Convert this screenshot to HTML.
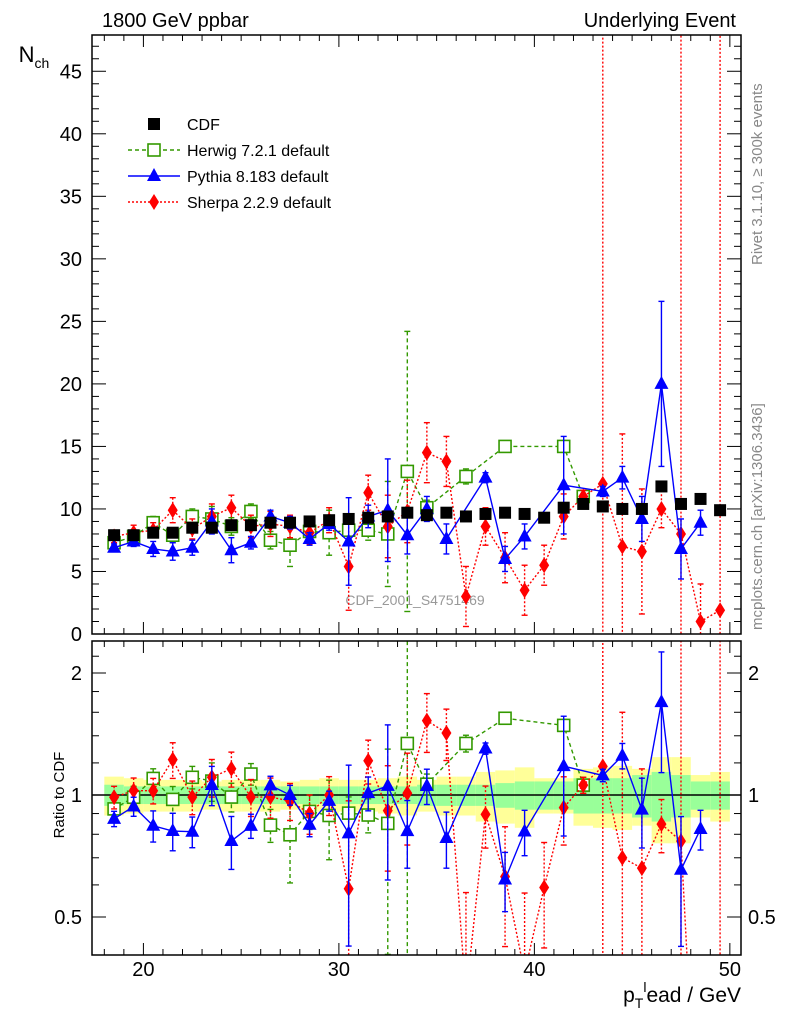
<!DOCTYPE html>
<html><head><meta charset="utf-8"><style>
html,body{margin:0;padding:0;background:#fff;overflow:hidden}
svg{display:block;font-family:"Liberation Sans",sans-serif}
</style></head><body>
<svg id="c" width="786" height="1024" viewBox="0 0 786 1024" xmlns="http://www.w3.org/2000/svg">
<defs>
<clipPath id="cm"><rect x="92" y="35" width="649" height="599"/></clipPath>
<clipPath id="cr"><rect x="92" y="641" width="649" height="314"/></clipPath>
</defs>
<text x="102" y="27" font-size="20">1800 GeV ppbar</text>
<text x="736" y="27" font-size="20" text-anchor="end">Underlying Event</text>
<text x="34" y="62" font-size="22" text-anchor="middle">N<tspan font-size="14" dy="6">ch</tspan></text>
<text transform="translate(64,795) rotate(-90)" font-size="15" text-anchor="middle">Ratio to CDF</text>
<text x="741" y="1002" font-size="21" text-anchor="end">p<tspan font-size="14" dy="6">T</tspan><tspan font-size="14" dy="-16">l</tspan><tspan dy="10">ead / GeV</tspan></text>
<text transform="translate(762,265) rotate(-90)" font-size="15" fill="#888" text-anchor="start"><tspan>Rivet 3.1.10, ≥ 300k events</tspan></text>
<text transform="translate(762,630) rotate(-90)" font-size="15" fill="#888">mcplots.cern.ch [arXiv:1306.3436]</text>
<text x="415" y="605" font-size="14" fill="#999" text-anchor="middle">CDF_2001_S4751469</text>
<g id="g"></g>
</svg>
<script>
const xs=[18.5,19.5,20.5,21.5,22.5,23.5,24.5,25.5,26.5,27.5,28.5,29.5,30.5,31.5,32.5,33.5,34.5,35.5,36.5,37.5,38.5,39.5,40.5,41.5,42.5,43.5,44.5,45.5,46.5,47.5,48.5,49.5];
const cdf=[7.9,7.9,8.1,8.1,8.5,8.5,8.7,8.7,8.9,8.9,9.0,9.1,9.2,9.3,9.4,9.7,9.5,9.7,9.4,9.6,9.7,9.6,9.3,10.1,10.4,10.2,10.0,10.0,11.8,10.4,10.8,9.9];
const bandStat=[0.06,0.05,0.05,0.05,0.05,0.05,0.05,0.05,0.05,0.05,0.05,0.05,0.05,0.05,0.05,0.05,0.06,0.06,0.06,0.06,0.07,0.08,0.08,0.08,0.10,0.10,0.10,0.12,0.14,0.12,0.08,0.08];
const bandTot=[0.11,0.10,0.09,0.09,0.09,0.08,0.09,0.09,0.09,0.08,0.09,0.10,0.09,0.09,0.10,0.11,0.09,0.11,0.11,0.14,0.15,0.17,0.10,0.10,0.16,0.17,0.18,0.16,0.24,0.24,0.12,0.14];
const hwX=[18.5,19.5,20.5,21.5,22.5,23.5,24.5,25.5,26.5,27.5,28.5,29.5,30.5,31.5,32.5,33.5,34.5,36.5,38.5,41.5,42.5];
const hwY=[7.3,7.8,8.9,7.9,9.4,9.2,8.6,9.8,7.5,7.1,8.2,8.1,8.3,8.3,8.0,13.0,10.1,12.6,15.0,15.0,11.0];
const hwE=[0.4,0.5,0.5,0.6,0.6,1.0,0.7,0.6,0.7,1.7,0.8,1.8,0.8,0.8,4.2,11.2,0.6,0.6,0,0,0.5];
const pyX=[18.5,19.5,20.5,21.5,22.5,23.5,24.5,25.5,26.5,27.5,28.5,29.5,30.5,31.5,32.5,33.5,34.5,35.5,37.5,38.5,39.5,41.5,43.5,44.5,45.5,46.5,47.5,48.5];
const pyY=[6.9,7.4,6.8,6.6,6.9,9.0,6.7,7.3,9.4,8.9,7.6,8.8,7.4,9.4,9.9,7.9,10.0,7.6,12.5,6.0,7.8,11.9,11.4,12.5,9.2,20.0,6.8,8.9];
const pyE=[0.3,0.4,0.6,0.7,0.6,1.0,1.0,0.5,0.5,0.5,0.5,0.5,3.5,0.9,4.1,1.5,1.0,1.2,0.4,1.0,1.0,3.9,0.4,0.9,1.8,6.6,2.4,1.0];
const shX=[18.5,19.5,20.5,21.5,22.5,23.5,24.5,25.5,26.5,27.5,28.5,29.5,30.5,31.5,32.5,33.5,34.5,35.5,36.5,37.5,38.5,39.5,40.5,41.5,42.5,43.5,44.5,45.5,46.5,47.5,48.5,49.5];
const shY=[7.8,8.1,8.3,9.9,8.4,9.4,10.1,8.6,8.8,8.6,8.1,9.1,5.4,11.3,8.6,9.8,14.5,13.8,3.0,8.6,6.1,3.5,5.5,9.4,11.0,12.0,7.0,6.6,10.0,8.0,1.0,1.9];
const shE=[0.5,0.6,0.6,1.0,0.8,1.0,1.0,0.9,1.0,0.9,0.9,1.0,3.5,1.4,2.5,2.5,2.4,2.0,2.4,1.5,2.0,2.0,1.6,1.8,0.5,60,9,5,1.5,60,3,60];
const yTicksMain=[0,5,10,15,20,25,30,35,40,45];
const rTicks=[0.5,1,2];
const xTicks=[20,30,40,50];

const NS='http://www.w3.org/2000/svg';
const G=document.getElementById('g');
const X0=17.37,X1=50.57,PL=92,PR=741;
const sx=v=>PL+(v-X0)/(X1-X0)*(PR-PL);
const MT=35,MB=634,YM=47.9;
const sy=v=>MB-v/YM*(MB-MT);
const RT=641,RB=955;
const sr=v=>795-Math.log2(v)*122;
function el(t,a,p){const e=document.createElementNS(NS,t);for(const k in a)e.setAttribute(k,a[k]);(p||G).appendChild(e);return e;}
const gm=el('g',{'clip-path':'url(#cm)'});


const gr=el('g',{'clip-path':'url(#cr)'});



xs.forEach((x,i)=>{
  const a=sx(x-0.5),b=sx(x+0.5);
  const y1=el('rect',{x:a,y:sr(1+bandTot[i]),width:b-a,height:sr(1-bandTot[i])-sr(1+bandTot[i]),fill:'#ffff99'},gr);
  
  
  const g1=el('rect',{x:a,y:sr(1+bandStat[i]),width:b-a,height:sr(1-bandStat[i])-sr(1+bandStat[i]),fill:'#99ff99'},gr);
  
  
});
const one=el('line',{x1:PL,x2:PR,y1:sr(1),y2:sr(1),stroke:'#000','stroke-width':1.5},gr);



function marker(type,px,py,col,par){
  let m;
  if(type==='sq')m=el('rect',{x:px-6,y:py-6,width:12,height:12,fill:'#000'},par);
  else if(type==='osq')m=el('rect',{x:px-6,y:py-6,width:12,height:12,fill:'#fff',stroke:col,'stroke-width':1.6},par);
  else if(type==='tri')m=el('polygon',{points:`${px},${py-8} ${px-7},${py+5} ${px+7},${py+5}`,fill:col},par);
  else m=el('polygon',{points:`${px},${py-8} ${px-5},${py} ${px},${py+8} ${px+5},${py}`,fill:col},par);
  return m;
}
function series(name,X,Y,E,col,dash,type,ratio){
  const par=ratio?gr:gm;
  const f=ratio?(i=>{const j=xs.indexOf(X[i]);return v=>sr(Math.max(v,1e-3)/cdf[j]);}):(i=>sy);
  let pts=X.map((x,i)=>sx(x)+','+f(i)(Y[i])).join(' ');
  const l=el('polyline',{points:pts,fill:'none',stroke:col,'stroke-width':1.4,'stroke-dasharray':dash},par);
  
  
  X.forEach((x,i)=>{
    const fy=f(i),px=sx(x);
    if(E[i]>0){
      const e=el('line',{x1:px,x2:px,y1:fy(Y[i]+E[i]),y2:fy(Math.max(Y[i]-E[i],0.001)),stroke:col,'stroke-width':1.4,'stroke-dasharray':dash},par);
      
      
      [Y[i]+E[i],Y[i]-E[i]].forEach(v=>{if(v>0)el('line',{x1:px-3,x2:px+3,y1:fy(v),y2:fy(v),stroke:col,'stroke-width':1.4},par);});
    }
    const m=marker(type,px,fy(Y[i]),col,par);
    
    
  });
}
series('herwig',hwX,hwY,hwE,'#339900','4,3','osq',false);
series('sherpa',shX,shY,shE,'#ff0000','2,2','dia',false);
series('pythia',pyX,pyY,pyE,'#0000ff','none','tri',false);
xs.forEach((x,i)=>{const m=marker('sq',sx(x),sy(cdf[i]),'#000',gm);

});
series('herwig',hwX,hwY,hwE,'#339900','4,3','osq',true);
series('sherpa',shX,shY,shE,'#ff0000','2,2','dia',true);
series('pythia',pyX,pyY,pyE,'#0000ff','none','tri',true);

[[MT,MB],[RT,RB]].forEach(([t,b],k)=>{
  const r=el('rect',{x:PL,y:t,width:PR-PL,height:b-t,fill:'none',stroke:'#000','stroke-width':1.5});
  
  
  for(let v=18;v<=50;v++){const px=sx(v),L=(v%10===0)?12:6;
    el('line',{x1:px,x2:px,y1:b,y2:b-L,stroke:'#000'});el('line',{x1:px,x2:px,y1:t,y2:t+L,stroke:'#000'});}
});
for(let v=0;v<=47;v++){const py=sy(v),L=(v%5===0)?14:7;
  el('line',{x1:PL,x2:PL+L,y1:py,y2:py,stroke:'#000'});el('line',{x1:PR,x2:PR-L,y1:py,y2:py,stroke:'#000'});}
yTicksMain.forEach(v=>{const t=el('text',{x:82,y:sy(v)+7,'font-size':20,'text-anchor':'end'});t.textContent=v;

});
[0.4,0.5,0.6,0.7,0.8,0.9,1,1.2,1.4,1.6,1.8,2,2.2,2.4].forEach(v=>{const py=sr(v);if(py<RT||py>RB)return;const L=rTicks.includes(v)?14:7;
  el('line',{x1:PL,x2:PL+L,y1:py,y2:py,stroke:'#000'});el('line',{x1:PR,x2:PR-L,y1:py,y2:py,stroke:'#000'});});
rTicks.forEach(v=>{[[82,'end'],[748,'start']].forEach(([x,a])=>{const t=el('text',{x:x,y:sr(v)+7,'font-size':20,'text-anchor':a});t.textContent=v;

});});
xTicks.forEach(v=>{const t=el('text',{x:sx(v),y:976,'font-size':20,'text-anchor':'middle'});t.textContent=v;

});

const leg=[['CDF','sq','#000','none'],['Herwig 7.2.1 default','osq','#339900','4,3'],['Pythia 8.183 default','tri','#0000ff','none'],['Sherpa 2.2.9 default','dia','#ff0000','2,2']];
leg.forEach((d,i)=>{const y=124+i*26;
  const g=el('g',{});
  
  
  if(i>0)el('line',{x1:128,x2:180,y1:y,y2:y,stroke:d[2],'stroke-width':1.4,'stroke-dasharray':d[3]},g);
  marker(d[1],154,y,d[2],g);
  const t=el('text',{x:187,y:y+6,'font-size':16},g);t.textContent=d[0];
});
</script>
</body></html>
